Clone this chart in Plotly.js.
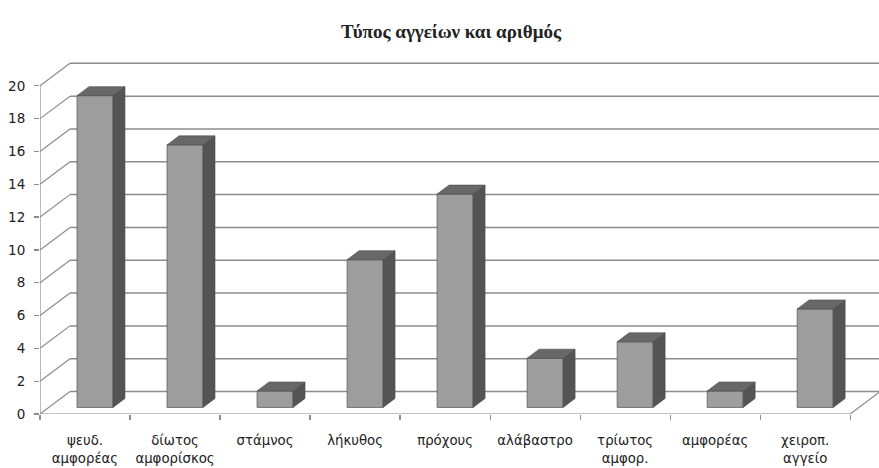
<!DOCTYPE html>
<html>
<head>
<meta charset="utf-8">
<script src="https://cdn.plot.ly/plotly-3.0.1.min.js"></script>
<style>html,body{margin:0;padding:0;background:#fff;}#chart{width:879px;height:468px;}</style>
</head>
<body>
<div id="chart"></div>
<script>
const categories = ["ψευδ.<br>αμφορέας", "δίωτος<br>αμφορίσκος", "στάμνος", "λήκυθος", "πρόχους", "αλάβαστρο", "τρίωτος<br>αμφορ.", "αμφορέας", "χειροπ.<br>αγγείο"];
const counts = [19, 16, 1, 9, 13, 3, 4, 1, 6];
const yTicks = [0, 2, 4, 6, 8, 10, 12, 14, 16, 18, 20];
const chartTitle = "Τύπος αγγείων και αριθμός";

// 3D look parameters (axis units)
const wallDx = 0.333, wallDy = 1.37;   // depth of back wall
const barBase = 0.4, barWidth = 0.4, barOffset = -0.089;
const barDx = 0.133, barDy = 0.55;     // depth of each bar
const xMin = -0.5, xMax = 8.82, nCat = categories.length;

const gridColor = "#8c8c8c";
const shapes = [];
// back wall gridlines and left side wall diagonals
yTicks.forEach(v => {
  shapes.push({type: "line", layer: "below", xref: "x", yref: "y",
    x0: xMin + wallDx, y0: v + wallDy, x1: xMax, y1: v + wallDy,
    line: {color: gridColor, width: 1.5}});
  shapes.push({type: "line", layer: "below", xref: "x", yref: "y",
    x0: xMin, y0: v, x1: xMin + wallDx, y1: v + wallDy,
    line: {color: gridColor, width: 1.2}});
});
// front value axis line
shapes.push({type: "line", layer: "below", xref: "x", yref: "y",
  x0: xMin, y0: 0, x1: xMin, y1: yTicks[yTicks.length - 1],
  line: {color: gridColor, width: 1.2}});
// floor front edge and right diagonal
shapes.push({type: "line", layer: "below", xref: "x", yref: "y",
  x0: xMin, y0: 0, x1: nCat - 0.5, y1: 0, line: {color: gridColor, width: 1.2}});
shapes.push({type: "line", layer: "below", xref: "x", yref: "y",
  x0: nCat - 0.5, y0: 0, x1: nCat - 0.5 + wallDx, y1: wallDy, line: {color: gridColor, width: 1.2}});

// bar side and top faces
counts.forEach((v, i) => {
  const xl = i + barOffset, xr = xl + barWidth;
  const yb = barBase, yt = barBase + v;
  shapes.push({type: "path", layer: "above", xref: "x", yref: "y",
    path: `M${xr},${yb} L${xr},${yt} L${xr + barDx},${yt + barDy} L${xr + barDx},${yb + barDy} Z`,
    fillcolor: "#545454", line: {color: "#4a4a4a", width: 0.6}});
  shapes.push({type: "path", layer: "above", xref: "x", yref: "y",
    path: `M${xl},${yt} L${xr},${yt} L${xr + barDx},${yt + barDy} L${xl + barDx},${yt + barDy} Z`,
    fillcolor: "#686868", line: {color: "#4a4a4a", width: 0.6}});
});

const trace = {
  type: "bar",
  x: categories,
  y: counts,
  base: barBase,
  width: barWidth,
  offset: barOffset,
  marker: {color: "#9d9d9d", line: {color: "#555555", width: 0.7}},
  hoverinfo: "x+y"
};

const layout = {
  width: 879, height: 468,
  margin: {l: 40, r: 0, t: 53, b: 54},
  paper_bgcolor: "#ffffff", plot_bgcolor: "#ffffff",
  showlegend: false,
  title: {text: "<b>" + chartTitle + "</b>", x: 451 / 879, xref: "container", xanchor: "center",
    y: 1 - 31 / 468, yref: "container", yanchor: "middle",
    font: {family: "Liberation Serif, DejaVu Serif, serif", size: 19, color: "#222"}},
  xaxis: {type: "category", range: [xMin, xMax], tickson: "boundaries",
    ticks: "outside", ticklen: 5, tickcolor: gridColor, tickwidth: 1.2,
    showgrid: false, zeroline: false, showline: false,
    ticklabelstandoff: 17,
    tickfont: {family: "DejaVu Sans, sans-serif", size: 13.3, color: "#222"}},
  yaxis: {range: [0, 22], tickvals: yTicks, ticktext: yTicks.map(String),
    ticks: "outside", ticklen: 5, tickcolor: gridColor, tickwidth: 1.2,
    showgrid: false, zeroline: false, showline: false,
    ticklabelstandoff: 6,
    tickfont: {family: "DejaVu Sans, sans-serif", size: 13.5, color: "#222"}},
  shapes: shapes,
  bargap: 0
};

Plotly.newPlot("chart", [trace], layout, {displayModeBar: false, staticPlot: true});
</script>
</body>
</html>
